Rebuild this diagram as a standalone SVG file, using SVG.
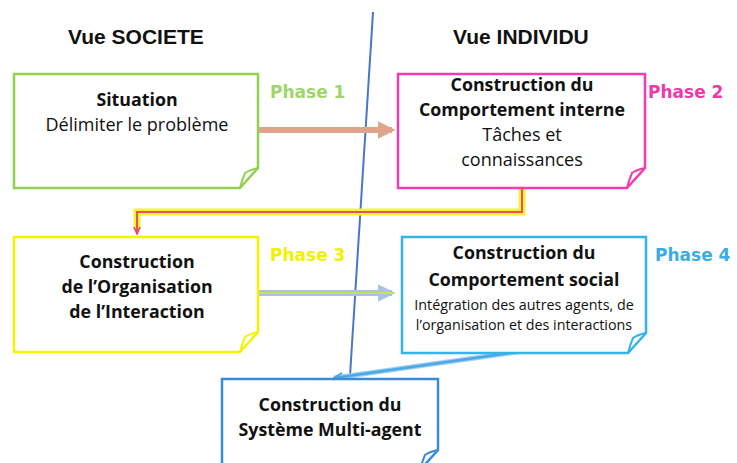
<svg xmlns="http://www.w3.org/2000/svg" width="737" height="463" viewBox="0 0 737 463">
<defs>
<style>
.box{fill:#fff;stroke-width:2.5;stroke-linejoin:miter}
.t{font-family:"Open Sans","Liberation Sans",sans-serif;font-size:18px;fill:#111;text-anchor:middle}
.b{font-weight:bold;font-size:17.8px}
.s{font-size:14.3px}
.ph{font-family:"DejaVu Sans","Liberation Sans",sans-serif;font-weight:bold;font-size:17px}
.hd{font-family:"Liberation Sans",Arial,sans-serif;font-weight:bold;font-size:21px;fill:#111}
</style>
<marker id="ah1" viewBox="0 0 10 10" refX="8" refY="5" markerWidth="3" markerHeight="3" orient="auto" markerUnits="strokeWidth"><path d="M0,0 L10,5 L0,10 z" fill="#dca68a"/></marker>
<marker id="ah3" viewBox="0 0 10 10" refX="8" refY="5" markerWidth="3" markerHeight="3" orient="auto" markerUnits="strokeWidth"><path d="M0,0 L10,5 L0,10 z" fill="#a9c4e2"/></marker>
<marker id="ah2" viewBox="0 0 10 10" refX="9" refY="5" markerWidth="8" markerHeight="8" orient="auto" markerUnits="userSpaceOnUse"><path d="M0,1 L9,5 L0,9" fill="none" stroke="#e8407a" stroke-width="2"/></marker>
<marker id="ah4" viewBox="0 0 10 10" refX="9" refY="5" markerWidth="10" markerHeight="10" orient="auto" markerUnits="userSpaceOnUse"><path d="M0,1 L9,5 L0,9" fill="none" stroke="#4aa8e8" stroke-width="2"/></marker>
</defs>
<rect width="737" height="463" fill="#fff"/>

<text class="hd" x="68" y="44">Vue SOCIETE</text>
<text class="hd" x="453" y="44">Vue INDIVIDU</text>

<g id="connectors">
<line x1="373" y1="12" x2="350" y2="376" stroke="#4a76c6" stroke-width="2"/>
<line x1="259" y1="130" x2="392" y2="130" stroke="#dca68a" stroke-width="6" marker-end="url(#ah1)"/>
<line x1="259" y1="130" x2="390" y2="130" stroke="#ef9a8a" stroke-width="1.5" opacity="0.6"/>
<path d="M522,189 V212 H137 V230" fill="none" stroke="#f6f430" stroke-width="7"/>
<path d="M522,189 V212 H137 V234" fill="none" stroke="#e8506a" stroke-width="2" marker-end="url(#ah2)"/>
<line x1="259" y1="293" x2="392" y2="293" stroke="#a9c4e2" stroke-width="6" marker-end="url(#ah3)"/>
<line x1="259" y1="293" x2="394" y2="293" stroke="#c6e05a" stroke-width="2"/>
<line x1="524" y1="351" x2="334" y2="378" stroke="#9ccff2" stroke-width="5"/>
<line x1="524" y1="351" x2="334" y2="378" stroke="#4aa8e8" stroke-width="2.5" marker-end="url(#ah4)"/>
</g>

<g id="phase1">
<path class="box" stroke="#92d050" d="M14,74 H258 V168 L240,188 H14 Z"/>
<path d="M258,168 Q249,170 245,173 Q242,180 240,188" fill="none" stroke="#92d050" stroke-width="2"/>
<text class="t b" x="137" y="106">Situation</text>
<text class="t" x="137" y="131">Délimiter le problème</text>
<text class="ph" x="270" y="98" fill="#9ed66a">Phase 1</text>
</g>

<g id="phase2">
<path class="box" stroke="#f03cb0" d="M398,74 H645 V168 L627,188 H398 Z"/>
<path d="M645,168 Q636,170 632,173 Q629,180 627,188" fill="none" stroke="#f03cb0" stroke-width="2"/>
<text class="t b" x="522" y="91">Construction du</text>
<text class="t b" x="522" y="116">Comportement interne</text>
<text class="t" x="522" y="141">Tâches et</text>
<text class="t" x="522" y="166">connaissances</text>
<text class="ph" x="648" y="98" fill="#ec3aaa">Phase 2</text>
</g>

<g id="phase3">
<path class="box" stroke="#f4f400" d="M14,237 H258 V332 L240,352 H14 Z"/>
<path d="M258,332 Q249,334 245,337 Q242,344 240,352" fill="none" stroke="#f4f400" stroke-width="2"/>
<text class="t b" x="137" y="268">Construction</text>
<text class="t b" x="137" y="293">de l’Organisation</text>
<text class="t b" x="137" y="318">de l’Interaction</text>
<text class="ph" x="270" y="261" fill="#f2f200">Phase 3</text>
</g>

<g id="phase4">
<path class="box" stroke="#35b4e8" d="M402,237 H646 V333 L628,353 H402 Z"/>
<path d="M646,333 Q637,335 633,338 Q630,345 628,353" fill="none" stroke="#35b4e8" stroke-width="2"/>
<text class="t b" x="524" y="259">Construction du</text>
<text class="t b" x="524" y="286">Comportement social</text>
<text class="t s" x="524" y="310">Intégration des autres agents, de</text>
<text class="t s" x="524" y="330">l’organisation et des interactions</text>
<text class="ph" x="655" y="261" fill="#3aaee2">Phase 4</text>
</g>

<g id="sma">
<path class="box" stroke="#3a8cd6" d="M222,379 H438 V450 L420,470 H222 Z"/>
<path d="M438,450 Q429,452 425,455 Q422,462 420,470" fill="none" stroke="#3a8cd6" stroke-width="2"/>
<text class="t b" x="330" y="411">Construction du</text>
<text class="t b" x="330" y="436">Système Multi-agent</text>
</g>
</svg>
